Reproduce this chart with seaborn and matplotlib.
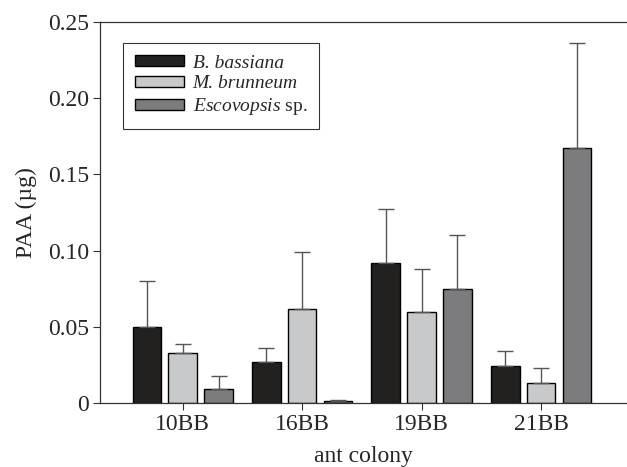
import numpy as np
import pandas as pd
import seaborn as sns
import matplotlib.pyplot as plt

# data
colonies = ["10BB", "16BB", "19BB", "21BB"]
species = ["B. bassiana", "M. brunneum", "Escovopsis sp."]
bassiana = [0.050, 0.027, 0.092, 0.024]
brunneum = [0.033, 0.062, 0.060, 0.013]
escovopsis = [0.009, 0.001, 0.075, 0.167]
bassiana_err = [0.030, 0.009, 0.035, 0.010]
brunneum_err = [0.006, 0.037, 0.028, 0.010]
escovopsis_err = [0.009, 0.001, 0.035, 0.069]

colors = ["#231f20", "#c8c9cb", "#7b7c80"]

df = pd.DataFrame({
    "colony": colonies * 3,
    "species": [species[0]] * 4 + [species[1]] * 4 + [species[2]] * 4,
    "paa": bassiana + brunneum + escovopsis,
    "err": bassiana_err + brunneum_err + escovopsis_err,
})

sns.set_style("ticks")
plt.rcParams["font.family"] = ["Liberation Serif", "DejaVu Serif"]
plt.rcParams["mathtext.fontset"] = "custom"
plt.rcParams["mathtext.it"] = "Liberation Serif:italic"
plt.rcParams["mathtext.rm"] = "Liberation Serif"

fig = plt.figure(figsize=(6.27, 4.67), dpi=100)
ax = fig.add_axes([0.16, 0.137, 0.84, 0.816])

sns.barplot(data=df, x="colony", y="paa", hue="species", hue_order=species,
            palette=colors, width=0.9, gap=0.2, edgecolor="black",
            linewidth=1.0, errorbar=None, ax=ax)

# one-sided error bars on top of each bar
for cont, sp in zip(ax.containers, species):
    sub = df[df.species == sp]
    for bar, e in zip(cont, sub["err"]):
        x = bar.get_x() + bar.get_width() / 2
        h = bar.get_height()
        ax.errorbar(x, h, yerr=[[0], [e]], fmt="none", ecolor="#555555",
                    elinewidth=1.0, capsize=5.5, capthick=1.0, zorder=1)

ax.set_ylim(0, 0.25)
ax.set_xlim(-0.69, 3.72)
ax.set_yticks([0, 0.05, 0.10, 0.15, 0.20, 0.25])
ax.set_yticklabels(["0", "0.05", "0.10", "0.15", "0.20", "0.25"])
ax.tick_params(labelsize=17, length=5, width=0.8, color="#333333", pad=3)
ax.set_xlabel("ant colony", fontsize=17, labelpad=8)
ax.set_ylabel("PAA (µg)", fontsize=17, labelpad=8)
for s in ["left", "bottom", "top"]:
    ax.spines[s].set_linewidth(0.9)
    ax.spines[s].set_color("#333333")
ax.spines["right"].set_visible(False)

leg = ax.legend(loc="upper left", bbox_to_anchor=(0.044, 0.945), fontsize=14,
                frameon=True, fancybox=False, edgecolor="black",
                handlelength=2.5, handleheight=0.5, borderpad=0.6,
                labelspacing=0.2, handletextpad=0.45, borderaxespad=0)
leg.get_frame().set_linewidth(0.8)
for t in leg.get_texts():
    if t.get_text() == "Escovopsis sp.":
        t.set_text(r"$\it{Escovopsis}$ sp.")
    else:
        t.set_fontstyle("italic")

fig.savefig("out.png", dpi=100)
